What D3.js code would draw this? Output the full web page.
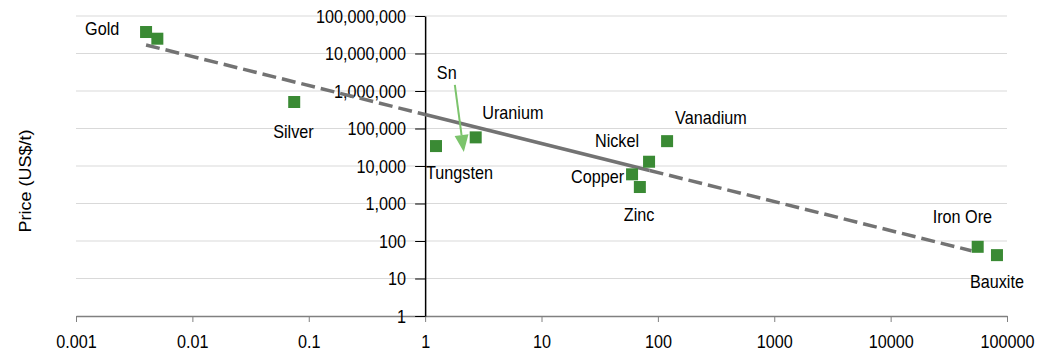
<!DOCTYPE html>
<html>
<head>
<meta charset="utf-8">
<script src="https://cdn.jsdelivr.net/npm/d3@7"></script>
<style>
  body { margin: 0; background: #fff; }
  text { font-family: "Liberation Sans", Arial, sans-serif; fill: #000; }
</style>
</head>
<body>
<svg id="chart" width="1045" height="353"></svg>
<script>
// metals: name, annual production (Mt, x) and price (US$/t, y)
var metals = ["Gold", "Gold2", "Silver", "Tungsten", "Uranium", "Nickel", "Vanadium", "Copper", "Zinc", "Iron Ore", "Bauxite"];
var production = [0.004, 0.005, 0.075, 1.24, 2.72, 84, 120, 60, 70, 56000, 82000];
var prices = [37400000, 24800000, 509000, 34000, 58000, 13000, 46000, 6000, 2750, 70, 42];

// power trend line
var trendX = [0.004, 1, 85, 49500];
var trendY = [16900000, 236000, 7600, 55];

var xTicks = [0.001, 0.01, 0.1, 1, 10, 100, 1000, 10000, 100000];
var yTicks = [1, 10, 100, 1000, 10000, 100000, 1000000, 10000000, 100000000];

// label placement relative to each point (px)
var labelPos = {
  "Gold":     { dx: -61, dy: 3,    anchor: "start" },
  "Silver":   { dx: -21, dy: 36,   anchor: "start" },
  "Tungsten": { dx: -10, dy: 32.5, anchor: "start" },
  "Uranium":  { dx: 6.5, dy: -18,  anchor: "start" },
  "Nickel":   { dx: -10, dy: -15,  anchor: "end" },
  "Vanadium": { dx: 8,   dy: -17,  anchor: "start" },
  "Copper":   { dx: -8,  dy: 9,    anchor: "end" },
  "Zinc":     { dx: -16, dy: 33.5, anchor: "start" },
  "Iron Ore": { dx: -45, dy: -23.5, anchor: "start" },
  "Bauxite":  { dx: -27, dy: 33,   anchor: "start" }
};

var FS = 18;       // font size
var SQ = 0.9;      // text looks squeezed horizontally in the picture

var svg = d3.select("#chart");

var x = d3.scaleLog().domain([0.001, 100000]).range([76, 1007]);
var y = d3.scaleLog().domain([1, 100000000]).range([316, 16]);

function label(px, py, txt, anchor) {
  return svg.append("text")
    .attr("transform", "translate(" + px + "," + py + ") scale(" + SQ + ",1)")
    .attr("text-anchor", anchor || "start")
    .attr("font-size", FS)
    .text(txt);
}

// gridlines
svg.append("g").selectAll("line")
  .data(yTicks.slice(1))
  .enter().append("line")
  .attr("x1", x(0.001)).attr("x2", x(100000))
  .attr("y1", function(d) { return y(d); })
  .attr("y2", function(d) { return y(d); })
  .attr("stroke", "#d9d9d9").attr("stroke-width", 1);

// x axis
var xAxis = d3.axisBottom(x).tickValues(xTicks).tickFormat(function(d) { return String(+d.toFixed(3)); })
  .tickSize(6).tickSizeOuter(0);
var gx = svg.append("g").attr("transform", "translate(0," + y(1) + ")").call(xAxis);
gx.select(".domain").attr("stroke", "#808080").attr("stroke-width", 1.5);
gx.selectAll(".tick line").attr("stroke", "#808080").attr("stroke-width", 1);
gx.selectAll(".tick text").attr("font-size", FS).attr("dy", 0).attr("y", 0)
  .attr("transform", "translate(0,32) scale(" + SQ + ",1)")
  .style("font-family", "'Liberation Sans', Arial, sans-serif").attr("fill", "#000");

// y axis crossing at x = 1
var yAxis = d3.axisLeft(y).tickValues(yTicks).tickFormat(d3.format(","))
  .tickSize(10).tickSizeOuter(0);
var gy = svg.append("g").attr("transform", "translate(" + x(1) + ",0)").call(yAxis);
gy.select(".domain").attr("stroke", "#000").attr("stroke-width", 1.5);
gy.selectAll(".tick line").attr("stroke", "#000");
gy.selectAll(".tick text").attr("font-size", FS).attr("x", 0).attr("dy", "0.36em")
  .attr("transform", "translate(-19,0) scale(" + SQ + ",1)")
  .style("font-family", "'Liberation Sans', Arial, sans-serif").attr("fill", "#000");

// axis title
svg.append("text")
  .attr("transform", "translate(31,181) scale(" + SQ + ",1) rotate(-90)")
  .attr("text-anchor", "middle")
  .attr("font-size", FS)
  .text("Price (US$/t)");

// trend line: dashed, solid over the middle part
var line = d3.line().x(function(d) { return x(d[0]); }).y(function(d) { return y(d[1]); });
var trend = trendX.map(function(v, i) { return [v, trendY[i]]; });
var segs = [
  { pts: trend.slice(0, 2), dash: "14,6" },
  { pts: trend.slice(1, 3), dash: null },
  { pts: trend.slice(2, 4), dash: "14,6" }
];
segs.forEach(function(s) {
  svg.append("path").datum(s.pts).attr("d", line)
    .attr("fill", "none").attr("stroke", "#737373").attr("stroke-width", 3.5)
    .attr("stroke-dasharray", s.dash);
});

// points
svg.append("g").selectAll("rect")
  .data(metals.map(function(m, i) { return { name: m, x: production[i], y: prices[i] }; }))
  .enter().append("rect")
  .attr("x", function(d) { return x(d.x) - 6; })
  .attr("y", function(d) { return y(d.y) - 6; })
  .attr("width", 12).attr("height", 12)
  .attr("fill", "#3a8a34");

// labels
metals.forEach(function(m, i) {
  var p = labelPos[m];
  if (!p) return;
  label(x(production[i]) + p.dx, y(prices[i]) + p.dy, m, p.anchor);
});

// Sn arrow
var snFrom = [1.80, 1450000], snTo = [2.15, 23600];
var ax1 = x(snFrom[0]), ay1 = y(snFrom[1]), ax2 = x(snTo[0]), ay2 = y(snTo[1]);
var ang = Math.atan2(ay2 - ay1, ax2 - ax1);
var headLen = 17, headW = 7;
var bx = ax2 - headLen * Math.cos(ang), by = ay2 - headLen * Math.sin(ang);
svg.append("line")
  .attr("x1", ax1).attr("y1", ay1).attr("x2", bx).attr("y2", by)
  .attr("stroke", "#7cc46c").attr("stroke-width", 2);
svg.append("path")
  .attr("d", "M" + ax2 + "," + ay2 +
    "L" + (bx + headW * Math.sin(ang)) + "," + (by - headW * Math.cos(ang)) +
    "L" + (bx - headW * Math.sin(ang)) + "," + (by + headW * Math.cos(ang)) + "Z")
  .attr("fill", "#7cc46c");
label(ax1 - 18, ay1 - 6, "Sn");
</script>
</body>
</html>
